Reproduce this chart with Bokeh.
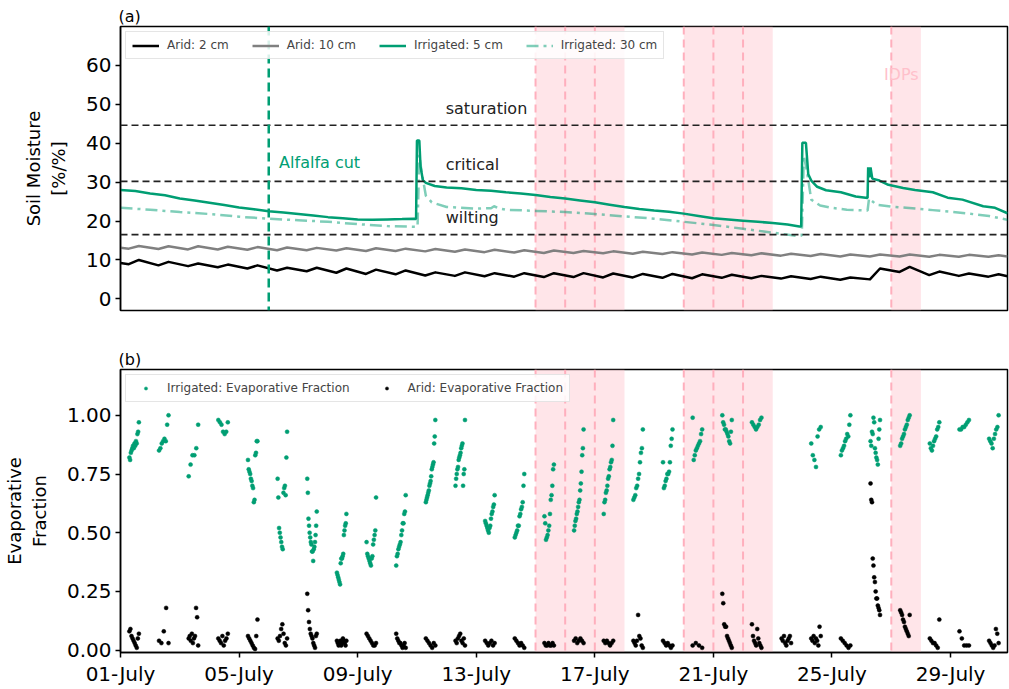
import pandas as pd
from bokeh.plotting import figure
from bokeh.layouts import column
from bokeh.models import (Span, BoxAnnotation, Label, Legend, LegendItem,
                          FixedTicker, DatetimeTickFormatter, NumeralTickFormatter,
                          Range1d)
from bokeh.embed import file_html
from bokeh.resources import INLINE

# ---------------------------------------------------------------- data
# time is given as days since 01-July 00:00
FONT = "DejaVu Sans"
GREEN = "#009E73"

# soil moisture thresholds [%/%]
thresholds = [44.6, 30.2, 16.5]
threshold_names = ["saturation", "critical", "wilting"]

alfalfa_cut_day = 5.0
idp_days = [14, 15, 16, 19, 20, 21, 26]          # 15,16,17,20,21,22,27 July

# Arid sites: morning minimum and afternoon maximum of each day
arid2_start, arid2_end = 9.2, 5.8
arid2_min = [8.9, 8.6, 8.4, 8.1, 7.8, 7.3, 7.1, 6.7, 6.4, 6.3,
             6.0, 5.9, 5.8, 5.7, 5.6, 5.6, 5.5, 5.5, 5.4, 5.3,
             5.4, 5.3, 5.2, 5.1, 4.9, 5.0, 6.9, 6.1, 5.9, 5.7]
arid2_max = [10.0, 9.5, 9.1, 8.8, 8.6, 8.0, 8.0, 7.8, 7.5, 7.3,
             6.8, 6.8, 6.6, 6.6, 6.6, 6.6, 6.5, 6.4, 6.4, 6.3,
             6.2, 5.9, 5.8, 5.7, 5.5, 7.8, 8.2, 7.0, 6.5, 6.3]

arid10_start, arid10_end = 13.1, 10.9
arid10_min = [12.9, 12.8, 12.7, 12.7, 12.6, 12.5, 12.5, 12.4, 12.3, 12.3,
              12.2, 12.1, 12.0, 11.9, 11.8, 11.8, 11.7, 11.6, 11.5, 11.4,
              11.3, 11.2, 11.1, 11.0, 10.9, 10.9, 10.9, 10.8, 10.8, 10.8]
arid10_max = [13.6, 13.5, 13.5, 13.4, 13.3, 13.2, 13.1, 13.0, 13.0, 12.9,
              12.8, 12.7, 12.6, 12.5, 12.4, 12.3, 12.2, 12.1, 12.0, 11.9,
              11.8, 11.7, 11.6, 11.5, 11.4, 11.4, 11.4, 11.3, 11.3, 11.2]

# Irrigated sites
irr5_day = [0.0, 0.5, 1.0, 1.5, 2.0, 2.5, 3.0, 3.5, 4.0, 4.5, 5.0, 5.5, 6.0, 6.5,
            7.0, 7.5, 8.0, 8.5, 9.0, 9.5, 9.9, 9.97, 10.0, 10.08, 10.12, 10.2,
            10.3, 10.6, 11.0, 11.5, 12.0, 12.5, 13.0, 13.5, 14.0, 14.5, 15.0,
            15.5, 16.0, 16.5, 17.0, 17.5, 18.0, 18.5, 19.0, 19.5, 20.0, 20.5,
            21.0, 21.5, 22.0, 22.5, 22.9, 22.96, 23.0, 23.12, 23.2, 23.3, 23.5,
            23.8, 24.3, 24.8, 25.2, 25.22, 25.26, 25.3, 25.36, 25.6, 25.9, 26.4,
            26.8, 27.4, 27.9, 28.4, 29.1, 29.5, 29.92]
irr5_val = [28.0, 27.7, 27.1, 26.6, 25.8, 25.3, 24.7, 24.1, 23.5, 23.0, 22.5, 22.2,
            21.8, 21.4, 21.0, 20.7, 20.4, 20.3, 20.4, 20.5, 20.6, 20.5, 40.7, 40.7,
            34.0, 30.5, 29.8, 29.0, 28.6, 28.4, 28.0, 27.8, 27.4, 27.1, 26.7, 26.2,
            25.8, 25.3, 24.8, 24.2, 23.6, 23.1, 22.7, 22.4, 21.9, 21.3, 20.7, 20.4,
            20.1, 19.8, 19.5, 19.1, 18.6, 18.6, 40.1, 40.1, 32.0, 30.4, 28.8, 27.9,
            27.4, 26.3, 25.9, 33.8, 31.2, 33.8, 30.9, 30.4, 29.3, 28.5, 28.0, 27.4,
            26.0, 25.5, 23.8, 23.4, 22.0]

irr30_day = [0.0, 1.0, 2.0, 3.0, 4.0, 5.0, 6.0, 7.0, 8.0, 9.0, 9.95, 10.02, 10.08,
             10.15, 10.3, 10.5, 11.0, 12.0, 12.5, 12.6, 12.75, 13.0, 14.0, 15.0,
             16.0, 17.0, 18.0, 19.0, 20.0, 21.0, 22.0, 22.8, 22.98, 23.05, 23.15,
             23.3, 23.6, 24.0, 24.5, 25.2, 25.25, 25.5, 26.0, 26.5, 27.4, 28.5,
             29.3, 29.92]
irr30_val = [23.4, 22.9, 22.3, 21.8, 21.1, 20.6, 20.2, 19.8, 19.2, 18.7, 18.5, 18.5,
             37.0, 33.0, 26.5, 24.8, 23.6, 23.2, 23.3, 23.8, 23.3, 22.9, 22.6, 22.3,
             21.8, 21.2, 20.6, 19.8, 19.0, 18.0, 17.0, 16.2, 16.3, 36.8, 33.0, 25.5,
             24.0, 23.4, 22.9, 22.7, 25.8, 24.2, 23.7, 23.4, 22.8, 22.0, 21.3, 20.3]

# Daytime evaporative fraction, one list per day (01-July first)
irrigated_ef = [
    [0.82, 0.81, 0.84, 0.85, 0.86, 0.87, 0.86, 0.88, 0.87, 0.89, 0.88, 0.92, 0.93, 0.97],
    [0.85, 0.86, 0.88, 0.89, 0.90, 0.89, 0.96, 1.00],
    [0.74, 0.79, 0.83, 0.83, 0.86, 0.96],
    [0.98, 0.97, 0.96, 0.93, 0.92, 0.93, 0.97],
    [0.81, 0.77, 0.76, 0.75, 0.73, 0.72, 0.70, 0.69, 0.63, 0.64, 0.83, 0.84, 0.89, 0.89],
    [0.73, 0.65, 0.52, 0.50, 0.48, 0.46, 0.44, 0.43, 0.67, 0.69, 0.70, 0.66, 0.82, 0.93],
    [0.73, 0.67, 0.56, 0.53, 0.50, 0.48, 0.46, 0.45, 0.42, 0.42, 0.38, 0.43, 0.44, 0.46,
     0.49, 0.53, 0.59],
    [0.33, 0.32, 0.31, 0.30, 0.29, 0.28, 0.37, 0.39, 0.39, 0.40, 0.41, 0.49, 0.51, 0.53,
     0.54, 0.58],
    [0.46, 0.41, 0.40, 0.39, 0.38, 0.37, 0.36, 0.39, 0.40, 0.45, 0.47, 0.49, 0.51, 0.65],
    [0.36, 0.40, 0.41, 0.43, 0.44, 0.45, 0.46, 0.49, 0.51, 0.54, 0.54, 0.58, 0.59, 0.66],
    [0.63, 0.64, 0.65, 0.66, 0.67, 0.68, 0.70, 0.71, 0.72, 0.74, 0.77, 0.78, 0.79, 0.80,
     0.88, 0.91, 0.98],
    [0.70, 0.73, 0.75, 0.77, 0.78, 0.81, 0.82, 0.83, 0.84, 0.86, 0.87, 0.88, 0.70, 0.75,
     0.77, 0.98],
    [0.55, 0.54, 0.53, 0.52, 0.51, 0.50, 0.52, 0.53, 0.56, 0.58, 0.59, 0.61, 0.62, 0.66],
    [0.48, 0.49, 0.50, 0.51, 0.53, 0.53, 0.57, 0.58, 0.60, 0.61, 0.63, 0.70, 0.75],
    [0.57, 0.54, 0.47, 0.48, 0.49, 0.51, 0.53, 0.58, 0.64, 0.66, 0.70, 0.77, 0.79],
    [0.51, 0.53, 0.55, 0.56, 0.58, 0.59, 0.61, 0.63, 0.64, 0.68, 0.71, 0.76, 0.83, 0.86,
     0.94],
    [0.58, 0.63, 0.64, 0.67, 0.68, 0.70, 0.73, 0.74, 0.77, 0.78, 0.80, 0.81, 0.87, 0.98],
    [0.64, 0.65, 0.66, 0.69, 0.70, 0.73, 0.75, 0.80, 0.84, 0.86, 0.94],
    [0.80, 0.69, 0.70, 0.72, 0.73, 0.75, 0.75, 0.76, 0.80, 0.87, 0.90, 0.94],
    [0.99, 0.81, 0.83, 0.85, 0.86, 0.87, 0.88, 0.89, 0.92, 0.94],
    [1.00, 0.97, 0.96, 0.94, 0.94, 0.93, 0.92, 0.91, 0.89, 0.88, 0.93, 0.98],
    [0.97, 0.96, 0.95, 0.94, 0.95, 0.96, 0.98, 0.99],
    [],
    [0.88, 0.83, 0.81, 0.78, 0.91, 0.94, 0.95],
    [0.83, 0.85, 0.86, 0.87, 0.89, 0.90, 0.92, 0.91, 0.96, 1.00],
    [0.89, 0.87, 0.93, 0.92, 0.99, 0.97, 0.86, 0.84, 0.82, 0.81, 0.79, 0.90, 0.94, 0.98],
    [0.87, 0.88, 0.90, 0.91, 0.92, 0.94, 0.95, 0.96, 0.98, 0.99, 1.00],
    [0.88, 0.86, 0.85, 0.87, 0.89, 0.90, 0.91, 0.94, 0.95, 0.97],
    [0.94, 0.94, 0.95, 0.95, 0.96, 0.97, 0.98],
    [0.90, 0.89, 0.88, 0.86, 0.90, 0.92, 0.94, 0.95, 1.00],
]

arid_ef = [
    [0.08, 0.09, 0.06, 0.05, 0.04, 0.03, 0.02, 0.01, 0.05, 0.07],
    [0.04, 0.03, 0.08, 0.18, 0.03],
    [0.05, 0.06, 0.04, 0.07, 0.03, 0.05, 0.06, 0.18, 0.14, 0.02],
    [0.05, 0.04, 0.03, 0.06, 0.02, 0.04, 0.05, 0.07],
    [0.06, 0.05, 0.04, 0.03, 0.02, 0.01, 0.005, 0.06, 0.13],
    [0.05, 0.04, 0.06, 0.09, 0.11, 0.07, 0.03, 0.02, 0.05],
    [0.24, 0.17, 0.12, 0.09, 0.07, 0.06, 0.05, 0.03, 0.02, 0.01, 0.06, 0.07],
    [0.04, 0.03, 0.02, 0.03, 0.04, 0.02, 0.03, 0.05, 0.04, 0.03, 0.02, 0.04],
    [0.07, 0.06, 0.05, 0.04, 0.03, 0.02, 0.02, 0.03],
    [0.07, 0.05, 0.04, 0.03, 0.03, 0.02, 0.01, 0.02, 0.03, 0.01],
    [0.05, 0.04, 0.03, 0.02, 0.01, 0.03, 0.02],
    [0.04, 0.03, 0.05, 0.06, 0.07, 0.04, 0.03, 0.05, 0.02],
    [0.04, 0.03, 0.02, 0.03, 0.04, 0.02, 0.03],
    [0.05, 0.04, 0.03, 0.02, 0.03, 0.02, 0.01],
    [0.03, 0.02, 0.02, 0.03, 0.02, 0.02, 0.03, 0.02],
    [0.04, 0.05, 0.03, 0.04, 0.05, 0.04, 0.03],
    [0.04, 0.03, 0.04, 0.03, 0.02, 0.03, 0.04],
    [0.04, 0.03, 0.02, 0.04, 0.15, 0.06, 0.05, 0.02, 0.01],
    [0.04, 0.03, 0.02, 0.03, 0.02, 0.01, 0.02],
    [0.02, 0.03, 0.02, 0.01],
    [0.24, 0.20, 0.11, 0.10, 0.10, 0.06, 0.05, 0.04, 0.03, 0.02, 0.01],
    [0.11, 0.06, 0.04, 0.03, 0.02, 0.09, 0.05, 0.03, 0.02, 0.01],
    [0.05, 0.04, 0.06, 0.03, 0.02, 0.04, 0.05, 0.06, 0.03],
    [0.05, 0.04, 0.06, 0.03, 0.05, 0.04, 0.02, 0.10, 0.06],
    [0.05, 0.04, 0.03, 0.02, 0.01, 0.02],
    [0.71, 0.64, 0.63, 0.39, 0.36, 0.31, 0.29, 0.25, 0.22, 0.22, 0.19, 0.18, 0.17, 0.15],
    [0.17, 0.16, 0.15, 0.13, 0.12, 0.10, 0.09, 0.08, 0.07, 0.06, 0.15],
    [0.05, 0.04, 0.03, 0.03, 0.02, 0.01, 0.13],
    [0.08, 0.05, 0.02, 0.02, 0.02],
    [0.04, 0.03, 0.02, 0.01, 0.02, 0.09, 0.07, 0.03],
]

tick_days = [0, 4, 8, 12, 16, 20, 24, 28]     # 01, 05, ... 29 July

# ---------------------------------------------------------------- helpers
DAY_MS = 86400000.0
T0 = (pd.Timestamp("2022-07-01") - pd.Timestamp("1970-01-01")) / pd.Timedelta(milliseconds=1)


def t(day):
    return T0 + day * DAY_MS


def diurnal(start, lows, highs, end):
    xs, ys = [t(0.0)], [start]
    for d, (lo, hi) in enumerate(zip(lows, highs)):
        xs += [t(d + 0.28), t(d + 0.62)]
        ys += [lo, hi]
    xs.append(t(29.92))
    ys.append(end)
    return xs, ys


def daytime_points(per_day):
    xs, ys = [], []
    for d, vals in enumerate(per_day):
        n = len(vals)
        for i, v in enumerate(vals):
            frac = i / (n - 1) if n > 1 else 0.5
            xs.append(t(d + 0.30 + 0.32 * frac))
            ys.append(v)
    return xs, ys


x_range = Range1d(t(0.0), t(29.92))


def style(p, label):
    p.title.text = label
    p.title.text_font = FONT
    p.title.text_font_size = "16px"
    p.title.text_font_style = "normal"
    p.title.text_color = "black"
    p.title.align = "left"
    p.title.standoff = 2
    p.title.offset = -2
    p.xgrid.visible = False
    p.ygrid.visible = False
    p.outline_line_color = "black"
    p.outline_line_width = 1.5
    p.outline_line_alpha = 1
    for ax in p.axis:
        ax.axis_line_width = 1.5
        ax.axis_line_color = "black"
        ax.major_tick_line_width = 1.5
        ax.major_tick_line_color = "black"
        ax.major_tick_out = 5
        ax.major_tick_in = 0
        ax.minor_tick_out = 0
        ax.minor_tick_in = 0
        ax.major_label_text_font = FONT
        ax.major_label_text_font_size = "20px"
        ax.major_label_text_color = "black"
        ax.axis_label_text_font = FONT
        ax.axis_label_text_font_size = "18px"
        ax.axis_label_text_font_style = "normal"
        ax.axis_label_text_color = "black"
        ax.axis_label_standoff = 14
        ax.major_label_standoff = 4


def add_idps(p):
    for d in idp_days:
        p.add_layout(BoxAnnotation(left=t(d), right=t(d + 1), fill_color="pink",
                                   fill_alpha=0.42, line_alpha=0, level="underlay"))
        p.add_layout(Span(location=t(d), dimension="height", line_color="#FFAFBD",
                          line_width=2, line_dash="8 5", level="underlay"))


# ---------------------------------------------------------------- (a) soil moisture
p1 = figure(width=1009, height=330, x_axis_type="datetime", x_range=x_range,
            y_range=Range1d(-3, 70), output_backend="svg", toolbar_location=None,
            min_border_left=119, min_border_right=2, min_border_top=26,
            min_border_bottom=20)
style(p1, "(a)")
p1.xaxis.visible = False
p1.yaxis.ticker = FixedTicker(ticks=[0, 10, 20, 30, 40, 50, 60])
p1.yaxis.axis_label = "Soil Moisture\n[%/%]"
add_idps(p1)

for yv, name in zip(thresholds, threshold_names):
    p1.add_layout(Span(location=yv, dimension="width", line_color="#222222",
                       line_width=1.6, line_dash="7 4"))
    p1.add_layout(Label(x=t(10.97), y=yv + 1.9, text=name, text_font=FONT,
                        text_font_size="16px", text_color="#222222"))

ax2, ay2 = diurnal(arid2_start, arid2_min, arid2_max, arid2_end)
ax10, ay10 = diurnal(arid10_start, arid10_min, arid10_max, arid10_end)
r_a2 = p1.line(ax2, ay2, line_color="black", line_width=2.5, line_join="round")
r_a10 = p1.line(ax10, ay10, line_color="#808080", line_width=2.5, line_join="round")
r_i5 = p1.line([t(d) for d in irr5_day], irr5_val, line_color=GREEN, line_width=2.5)
r_i30 = p1.line([t(d) for d in irr30_day], irr30_val, line_color=GREEN, line_alpha=0.5,
                line_width=2.5, line_dash="12 5 3 5")

p1.add_layout(Span(location=t(alfalfa_cut_day), dimension="height", line_color=GREEN,
                   line_width=2.5, line_dash="9 5"))
p1.add_layout(Label(x=t(5.35), y=32.6, text="Alfalfa cut", text_font=FONT,
                    text_font_size="16px", text_color=GREEN))
p1.add_layout(Label(x=t(25.75), y=55.2, text="IDPs", text_font=FONT,
                    text_font_size="16px", text_color="pink"))

leg1 = Legend(items=[LegendItem(label="Arid: 2 cm", renderers=[r_a2]),
                     LegendItem(label="Arid: 10 cm", renderers=[r_a10]),
                     LegendItem(label="Irrigated: 5 cm", renderers=[r_i5]),
                     LegendItem(label="Irrigated: 30 cm", renderers=[r_i30])],
              location="top_left", orientation="horizontal")
p1.add_layout(leg1)

# ---------------------------------------------------------------- (b) evaporative fraction
p2 = figure(width=1009, height=359, x_axis_type="datetime", x_range=x_range,
            y_range=Range1d(-0.01, 1.195), output_backend="svg", toolbar_location=None,
            min_border_left=119, min_border_right=2, min_border_top=39,
            min_border_bottom=37)
style(p2, "(b)")
p2.yaxis.ticker = FixedTicker(ticks=[0, 0.25, 0.5, 0.75, 1.0])
p2.yaxis.formatter = NumeralTickFormatter(format="0.00")
p2.yaxis.axis_label = "Evaporative\nFraction"
p2.xaxis.ticker = FixedTicker(ticks=[t(d) for d in tick_days])
fmt = "%d-%B"
p2.xaxis.formatter = DatetimeTickFormatter(days=fmt, months=fmt, hours=fmt, years=fmt,
                                           hourmin=fmt, minutes=fmt)
add_idps(p2)

ix, iy = daytime_points(irrigated_ef)
axp, ayp = daytime_points(arid_ef)
r_ie = p2.scatter(ix, iy, size=4.0, fill_color=GREEN, line_color=GREEN, line_width=0.5)
r_ae = p2.scatter(axp, ayp, size=4.0, fill_color="black", line_color="black",
                  line_width=0.5)

leg2 = Legend(items=[LegendItem(label="Irrigated: Evaporative Fraction", renderers=[r_ie]),
                     LegendItem(label="Arid: Evaporative Fraction", renderers=[r_ae])],
              location="top_left", orientation="horizontal")
p2.add_layout(leg2)

for leg in (leg1, leg2):
    leg.label_text_font = FONT
    leg.label_text_font_size = "12px"
    leg.glyph_width = 27
    leg.glyph_height = 13
    leg.label_standoff = 8
    leg.spacing = 23
    leg.padding = 6
    leg.margin = 5
    leg.border_line_color = "#cccccc"
    leg.border_line_width = 1
    leg.background_fill_alpha = 0.85
leg2.glyph_height = 8

layout = column(p1, p2, spacing=0)
open("out.html", "w").write(file_html(layout, INLINE))
